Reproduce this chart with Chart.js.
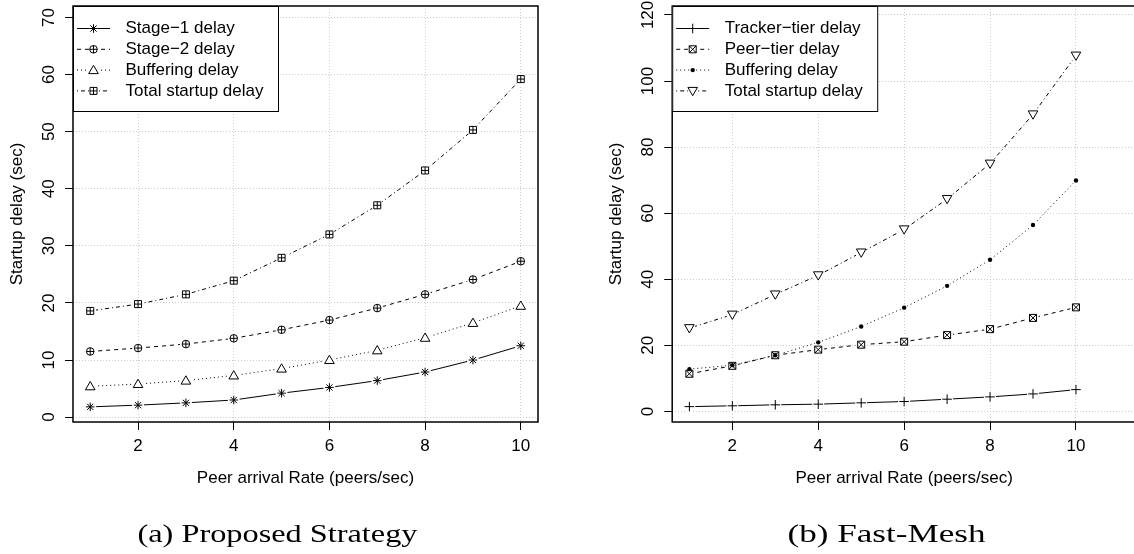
<!DOCTYPE html>
<html>
<head>
<meta charset="utf-8">
<script src="https://cdn.jsdelivr.net/npm/chart.js@4.4.0/dist/chart.umd.min.js"></script>
<style>
  html, body { margin: 0; padding: 0; background: #fff; overflow: hidden; width: 1134px; height: 554px; }
  canvas { position: absolute; top: 0; }
  #left { left: 0; }
  #right { left: 567px; }
</style>
</head>
<body>
<canvas id="left" width="567" height="554"></canvas>
<canvas id="right" width="620" height="554"></canvas>
<script>
const rates = [1, 2, 3, 4, 5, 6, 7, 8, 9, 10];
const xTicks = [2, 4, 6, 8, 10];

// (a) Proposed Strategy
const stage1Delay = [1.8, 2.1, 2.5, 3.0, 4.2, 5.2, 6.4, 7.9, 10.0, 12.5];
const stage2Delay = [11.5, 12.1, 12.8, 13.8, 15.3, 17.0, 19.1, 21.5, 24.1, 27.3];
const bufferingA = [5.4, 5.8, 6.4, 7.3, 8.5, 10.0, 11.7, 13.9, 16.5, 19.5];
const totalA = [18.6, 19.8, 21.5, 23.9, 27.9, 32.0, 37.1, 43.2, 50.3, 59.2];
const yTicksA = [0, 10, 20, 30, 40, 50, 60, 70];

// (b) Fast-Mesh
const trackerTier = [1.45, 1.7, 2.0, 2.2, 2.6, 3.0, 3.7, 4.4, 5.3, 6.6];
const peerTier = [11.4, 13.8, 17.0, 18.7, 20.2, 21.1, 23.1, 24.9, 28.3, 31.5];
const bufferingB = [12.8, 14.0, 17.0, 20.9, 25.7, 31.4, 38.0, 45.9, 56.4, 69.9];
const totalB = [25.2, 29.3, 35.4, 41.2, 48.1, 55.1, 64.3, 75.0, 89.9, 107.7];
const yTicksB = [0, 20, 40, 60, 80, 100, 120];

const FONT = '"Liberation Sans", Arial, Helvetica, sans-serif';
const SERIF = '"Liberation Serif", "Times New Roman", serif';

function pts(arr) {
  return rates.map((x, i) => ({ x: x, y: arr[i] }));
}

// R-like plotting symbols
function drawMarker(ctx, style, x, y) {
  ctx.save();
  ctx.strokeStyle = '#000';
  ctx.fillStyle = '#000';
  ctx.lineWidth = 1;
  ctx.setLineDash([]);
  ctx.beginPath();
  const s = 4.3, b = 3.5;
  if (style === 'asterisk') {
    const d = s * 0.72;
    ctx.moveTo(x - s, y); ctx.lineTo(x + s, y);
    ctx.moveTo(x, y - s); ctx.lineTo(x, y + s);
    ctx.moveTo(x - d, y - d); ctx.lineTo(x + d, y + d);
    ctx.moveTo(x - d, y + d); ctx.lineTo(x + d, y - d);
    ctx.stroke();
  } else if (style === 'plus') {
    ctx.moveTo(x - s - 0.5, y); ctx.lineTo(x + s + 0.5, y);
    ctx.moveTo(x, y - s - 0.5); ctx.lineTo(x, y + s + 0.5);
    ctx.stroke();
  } else if (style === 'circlePlus') {
    ctx.arc(x, y, 3.8, 0, Math.PI * 2);
    ctx.moveTo(x - 3.8, y); ctx.lineTo(x + 3.8, y);
    ctx.moveTo(x, y - 3.8); ctx.lineTo(x, y + 3.8);
    ctx.stroke();
  } else if (style === 'squarePlus') {
    ctx.rect(x - b, y - b, 2 * b, 2 * b);
    ctx.moveTo(x - b, y); ctx.lineTo(x + b, y);
    ctx.moveTo(x, y - b); ctx.lineTo(x, y + b);
    ctx.stroke();
  } else if (style === 'squareX') {
    ctx.rect(x - b, y - b, 2 * b, 2 * b);
    ctx.moveTo(x - b, y - b); ctx.lineTo(x + b, y + b);
    ctx.moveTo(x - b, y + b); ctx.lineTo(x + b, y - b);
    ctx.stroke();
  } else if (style === 'triangleUp') {
    ctx.moveTo(x, y - 4.8); ctx.lineTo(x + 4.8, y + 3.5); ctx.lineTo(x - 4.8, y + 3.5);
    ctx.closePath();
    ctx.stroke();
  } else if (style === 'triangleDown') {
    ctx.moveTo(x, y + 4.8); ctx.lineTo(x + 4.8, y - 3.5); ctx.lineTo(x - 4.8, y - 3.5);
    ctx.closePath();
    ctx.stroke();
  } else if (style === 'dot') {
    ctx.arc(x, y, 2.2, 0, Math.PI * 2);
    ctx.fill();
  }
  ctx.restore();
}

function series(label, arr, dash, marker) {
  return {
    label: label,
    data: pts(arr),
    borderColor: '#000',
    borderWidth: 1,
    borderDash: dash,
    pointRadius: 0,
    pointHoverRadius: 0,
    tension: 0,
    marker: marker,
    gap: marker === 'dot' ? 3.5 : 6
  };
}

function rPlot(opts) {
  return {
    id: 'rPlot',
    afterDatasetsDraw(chart) {
      const ctx = chart.ctx;
      // type = "b": leave a gap in the lines round each point
      chart.data.datasets.forEach((ds, i) => {
        chart.getDatasetMeta(i).data.forEach(p => {
          ctx.save();
          ctx.fillStyle = '#fff';
          ctx.beginPath();
          ctx.arc(p.x, p.y, ds.gap, 0, Math.PI * 2);
          ctx.fill();
          ctx.restore();
        });
      });
      chart.data.datasets.forEach((ds, i) => {
        chart.getDatasetMeta(i).data.forEach(p => drawMarker(ctx, ds.marker, p.x, p.y));
      });
    },
    afterDraw(chart) {
      const ctx = chart.ctx;
      const a = chart.chartArea;
      const yScale = chart.scales.y;

      // plot box
      ctx.save();
      ctx.strokeStyle = '#000';
      ctx.lineWidth = 1.5;
      ctx.strokeRect(a.left, a.top, a.right - a.left, a.bottom - a.top);
      ctx.restore();

      // y tick labels, rotated as in R
      ctx.save();
      ctx.fillStyle = '#000';
      ctx.font = '17px ' + FONT;
      ctx.textAlign = 'center';
      ctx.textBaseline = 'middle';
      opts.yTicks.forEach(v => {
        const py = yScale.getPixelForValue(v);
        ctx.save();
        ctx.translate(a.left - 24, py);
        ctx.rotate(-Math.PI / 2);
        ctx.fillText(String(v), 0, 0);
        ctx.restore();
      });
      // y title
      ctx.save();
      ctx.translate(a.left - 56, (a.top + a.bottom) / 2);
      ctx.rotate(-Math.PI / 2);
      ctx.fillText('Startup delay (sec)', 0, 0);
      ctx.restore();
      // x title
      ctx.textBaseline = 'alphabetic';
      ctx.fillText('Peer arrival Rate (peers/sec)', (a.left + a.right) / 2, 483);
      ctx.restore();

      // legend
      const lx = a.left, ly = a.top, lw = 205, lh = 105;
      ctx.save();
      ctx.fillStyle = '#fff';
      ctx.fillRect(lx, ly, lw, lh);
      ctx.strokeStyle = '#000';
      ctx.lineWidth = 1;
      ctx.strokeRect(lx + 0.5, ly + 0.5, lw, lh);
      ctx.font = '17px ' + FONT;
      ctx.textAlign = 'left';
      ctx.textBaseline = 'middle';
      chart.data.datasets.forEach((ds, i) => {
        const ry = ly + 22.5 + i * 20.8;
        ctx.save();
        ctx.strokeStyle = '#000';
        ctx.lineWidth = 1;
        ctx.setLineDash(ds.borderDash);
        ctx.beginPath();
        ctx.moveTo(lx + 4, ry);
        ctx.lineTo(lx + 37, ry);
        ctx.stroke();
        ctx.restore();
        ctx.save();
        ctx.fillStyle = '#fff';
        ctx.beginPath();
        ctx.arc(lx + 20.5, ry, ds.gap - 1.5, 0, Math.PI * 2);
        ctx.fill();
        ctx.restore();
        drawMarker(ctx, ds.marker, lx + 20.5, ry);
        ctx.fillStyle = '#000';
        ctx.fillText(ds.label, lx + 52.5, ry);
      });
      ctx.restore();

      // sub-caption
      ctx.save();
      ctx.fillStyle = '#000';
      ctx.font = '26px ' + SERIF;
      ctx.textAlign = 'left';
      ctx.textBaseline = 'alphabetic';
      const w = ctx.measureText(opts.caption).width;
      const sx = opts.captionWidth / w;
      ctx.translate(opts.captionX - opts.captionWidth / 2, 542);
      ctx.scale(sx, 1);
      ctx.fillText(opts.caption, 0, 0);
      ctx.restore();
    }
  };
}

function axes(xMin, xMax, yMin, yMax, yTicks, yWidth) {
  const grid = { color: '#cccccc', lineWidth: 1, tickColor: '#000', tickLength: 8, tickWidth: 1, tickBorderDash: [] };
  const border = { display: false, dash: [1, 2] };
  return {
    x: {
      type: 'linear', min: xMin, max: xMax,
      afterBuildTicks: s => { s.ticks = xTicks.map(v => ({ value: v })); },
      afterFit: s => { s.height = 132; },
      grid: grid, border: border,
      ticks: { color: '#000', font: { family: FONT, size: 17 }, padding: 6, maxRotation: 0, autoSkip: false }
    },
    y: {
      type: 'linear', min: yMin, max: yMax,
      afterBuildTicks: s => { s.ticks = yTicks.map(v => ({ value: v })); },
      afterFit: s => { s.width = yWidth; },
      grid: grid, border: border,
      ticks: { display: false }
    }
  };
}

new Chart(document.getElementById('left'), {
  type: 'line',
  data: {
    datasets: [
      series('Stage\u22121 delay', stage1Delay, [], 'asterisk'),
      series('Stage\u22122 delay', stage2Delay, [4, 4], 'circlePlus'),
      series('Buffering delay', bufferingA, [1, 3], 'triangleUp'),
      series('Total startup delay', totalA, [1, 3, 4, 3], 'squarePlus')
    ]
  },
  options: {
    responsive: false,
    animation: false,
    events: [],
    layout: { padding: { left: 0, top: 6, right: 29, bottom: 0 } },
    plugins: { legend: { display: false }, tooltip: { enabled: false } },
    scales: axes(0.64, 10.36, -0.85, 72, yTicksA, 73)
  },
  plugins: [rPlot({ yTicks: yTicksA, caption: '(a) Proposed Strategy', captionX: 277.5, captionWidth: 280 })]
});

new Chart(document.getElementById('right'), {
  type: 'line',
  data: {
    datasets: [
      series('Tracker\u2212tier delay', trackerTier, [], 'plus'),
      series('Peer\u2212tier delay', peerTier, [4, 4], 'squareX'),
      series('Buffering delay', bufferingB, [1, 3], 'dot'),
      series('Total startup delay', totalB, [1, 3, 4, 3], 'triangleDown')
    ]
  },
  options: {
    responsive: false,
    animation: false,
    events: [],
    layout: { padding: { left: 0, top: 6, right: 50.9, bottom: 0 } },
    plugins: { legend: { display: false }, tooltip: { enabled: false } },
    scales: axes(0.6, 11.4, -3.2, 122.7, yTicksB, 105.2)
  },
  plugins: [rPlot({ yTicks: yTicksB, caption: '(b) Fast-Mesh', captionX: 319.5, captionWidth: 198 })]
});
</script>
</body>
</html>
